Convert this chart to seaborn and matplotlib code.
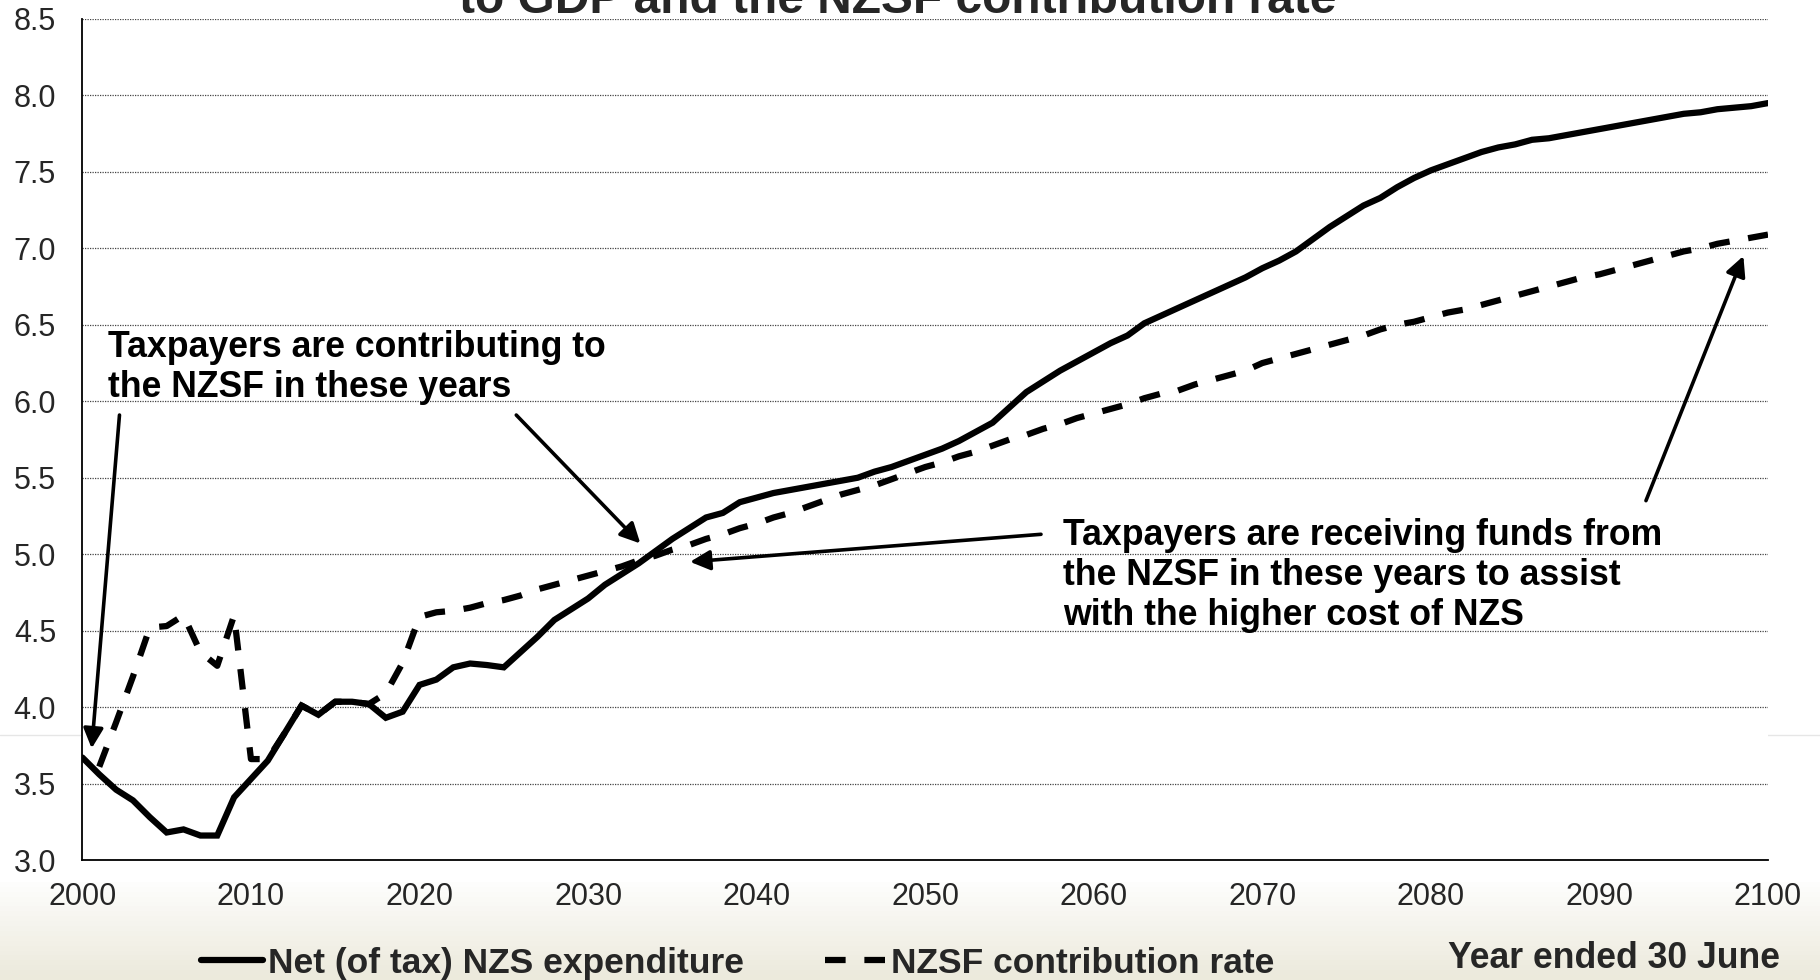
import numpy as np
import pandas as pd
import matplotlib
matplotlib.use("Agg")
import matplotlib.pyplot as plt
from matplotlib.lines import Line2D
from matplotlib.ticker import MultipleLocator
import seaborn as sns

# ---------------- data ----------------
years = list(range(2000, 2101))
net_nzs = [
    3.67, 3.56, 3.46, 3.39, 3.28, 3.18, 3.20, 3.16, 3.16, 3.41,
    3.53, 3.65, 3.83, 4.01, 3.95, 4.035, 4.035, 4.02, 3.93, 3.97,
    4.145, 4.18, 4.26, 4.285, 4.275, 4.26, 4.36, 4.46, 4.57, 4.64,
    4.71, 4.80, 4.87, 4.94, 5.02, 5.10, 5.17, 5.24, 5.27, 5.34,
    5.37, 5.40, 5.42, 5.44, 5.46, 5.48, 5.50, 5.54, 5.57, 5.61,
    5.65, 5.69, 5.74, 5.80, 5.86, 5.96, 6.06, 6.13, 6.20, 6.26,
    6.32, 6.38, 6.43, 6.51, 6.56, 6.61, 6.66, 6.71, 6.76, 6.81,
    6.87, 6.92, 6.98, 7.06, 7.14, 7.21, 7.28, 7.33, 7.40, 7.46,
    7.51, 7.55, 7.59, 7.63, 7.66, 7.68, 7.71, 7.72, 7.74, 7.76,
    7.78, 7.80, 7.82, 7.84, 7.86, 7.88, 7.89, 7.91, 7.92, 7.93, 7.95,
]
nzsf_years = list(range(2001, 2101))
nzsf_rate = [
    3.61, 3.90, 4.20, 4.52, 4.53, 4.60, 4.36, 4.27, 4.60, 3.66,
    3.66, 3.83, 4.01, 3.95, 4.035, 4.035, 4.02, 4.09, 4.29, 4.59,
    4.62, 4.63, 4.65, 4.68, 4.70, 4.73, 4.77, 4.80, 4.83, 4.86,
    4.89, 4.92, 4.96, 4.99, 5.03, 5.06, 5.10, 5.13, 5.17, 5.20,
    5.24, 5.27, 5.31, 5.35, 5.39, 5.42, 5.45, 5.49, 5.53, 5.57,
    5.60, 5.64, 5.67, 5.71, 5.75, 5.78, 5.82, 5.85, 5.89, 5.92,
    5.95, 5.98, 6.02, 6.05, 6.07, 6.11, 6.14, 6.17, 6.20, 6.25,
    6.28, 6.31, 6.34, 6.37, 6.40, 6.43, 6.47, 6.50, 6.52, 6.55,
    6.58, 6.60, 6.63, 6.66, 6.69, 6.72, 6.75, 6.78, 6.81, 6.83,
    6.86, 6.89, 6.92, 6.95, 6.98, 7.00, 7.03, 7.05, 7.07, 7.09,
]
series_names = ["Net (of tax) NZS expenditure", "NZSF contribution rate"]
title_text = "to GDP and the NZSF contribution rate"
note_contrib = "Taxpayers are contributing to\nthe NZSF in these years"
note_receive = "Taxpayers are receiving funds from\nthe NZSF in these years to assist\nwith the higher cost of NZS"
xlabel_text = "Year ended 30 June"

df_net = pd.DataFrame({"year": years, "value": net_nzs})
df_nzsf = pd.DataFrame({"year": nzsf_years, "value": nzsf_rate})

# ---------------- style ----------------
sns.set_style("white")
plt.rcParams["font.family"] = ["Liberation Sans", "DejaVu Sans"]

W, H = 1820, 980
fig = plt.figure(figsize=(W / 100, H / 100), dpi=100)
fig.patch.set_facecolor("white")

# slide background gradient at bottom
bg = fig.add_axes([0, 0, 1, 1], zorder=-10)
grad = np.ones((200, 2, 3))
t = np.linspace(0, 1, 200)  # 0 = bottom
top_col = np.array([1.0, 1.0, 1.0])
bot_col = np.array([236, 234, 220]) / 255
for i, tv in enumerate(t):
    f = np.clip((0.10 - tv) / 0.10, 0, 1) ** 0.9
    grad[i, :, :] = top_col * (1 - f) + bot_col * f
bg.imshow(grad, extent=[0, 1, 0, 1], origin="lower", aspect="auto")
bg.set_xlim(0, 1)
bg.set_ylim(0, 1)
bg.axis("off")
bg.add_line(Line2D([0, 1], [1 - 735 / H, 1 - 735 / H], color="#e6e6e6", lw=1.0))

ax = fig.add_axes([82.4 / W, 1 - 860 / H, (1768 - 82.4) / W, (860 - 19) / H])
ax.set_facecolor("white")

lw = 4.5
sns.lineplot(data=df_net, x="year", y="value", ax=ax, color="black", lw=lw,
             label=series_names[0], solid_joinstyle="miter", zorder=4)
sns.lineplot(data=df_nzsf, x="year", y="value", ax=ax, color="black", lw=lw,
             linestyle=(0, (3.3, 3.0)), label=series_names[1], zorder=3)

ax.set_xlim(2000, 2100)
ax.set_ylim(3.0, 8.5)
ax.xaxis.set_major_locator(MultipleLocator(10))
ax.xaxis.set_minor_locator(MultipleLocator(1))
ax.yaxis.set_major_locator(MultipleLocator(0.5))
ax.yaxis.set_major_formatter(matplotlib.ticker.FormatStrFormatter("%.1f"))
ax.set_xlabel("")
ax.set_ylabel("")

ax.tick_params(axis="x", which="both", direction="out", length=6, width=1.0,
               color="black", labelsize=22, pad=10)
ax.tick_params(axis="y", which="both", length=0, labelsize=22, pad=19)
ax.yaxis.grid(True, linestyle=(0, (1, 1)), color="#444444", lw=0.9)
ax.xaxis.grid(False)
for s in ["top", "right"]:
    ax.spines[s].set_visible(False)
for s in ["left", "bottom"]:
    ax.spines[s].set_color("black")
    ax.spines[s].set_linewidth(1.3)
ax.legend_.remove()

# annotations
bold = dict(fontsize=25.7, fontweight="bold", color="black")
ax.text(2001.52, 6.22, note_contrib, ha="left", va="center", linespacing=1.2, **bold)
ax.text(2058.17, 4.86, note_receive, ha="left", va="center", linespacing=1.2, **bold)

arrow = dict(arrowstyle="-|>", mutation_scale=30, lw=2.6, color="black",
             shrinkA=0, shrinkB=0)
ax.annotate("", xy=(2000.55, 3.73), xytext=(2002.2, 5.91), arrowprops=arrow)
ax.annotate("", xy=(2033.1, 5.07), xytext=(2025.74, 5.91), arrowprops=arrow)
ax.annotate("", xy=(2036.05, 4.95), xytext=(2056.87, 5.13), arrowprops=arrow)
ax.annotate("", xy=(2098.54, 6.95), xytext=(2092.76, 5.35), arrowprops=arrow)

# title line cut off at the top, as in the reference slide
fig.text(898 / W, 1 - 13 / H, title_text, ha="center", va="baseline",
         fontsize=34.5, fontweight="bold")

# legend and x label at the bottom
handles, labels = ax.get_legend_handles_labels()
fig.legend(handles, labels, loc="center", bbox_to_anchor=(738 / W, 1 - 963 / H),
           ncol=2, frameon=False, prop={"size": 25.5, "weight": "bold"},
           handlelength=1.75, handletextpad=0.12, columnspacing=2.3)
fig.text(1614 / W, 1 - 958 / H, xlabel_text, ha="center", va="center",
         fontsize=25.7, fontweight="bold")

fig.savefig("out.png", dpi=100)
